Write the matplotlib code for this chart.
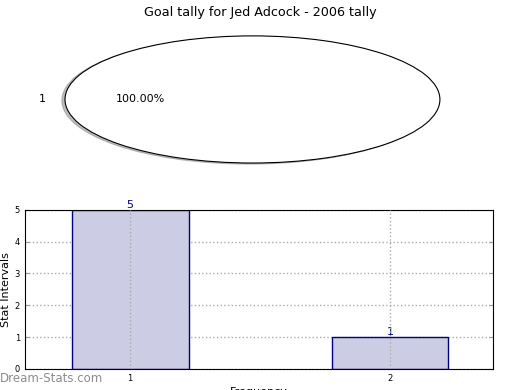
import numpy as np
import matplotlib
matplotlib.use('Agg')
import matplotlib.pyplot as plt

# pie data
pie_labels = ['1']
pie_values = [1]

# bar data
bar_cats = [1, 2]
bar_values = [5, 1]

fig = plt.figure(figsize=(5.2, 3.9), dpi=100)
fig.suptitle('Goal tally for Jed Adcock - 2006 tally', fontsize=9.2, y=0.985)

# top pie, squashed into an ellipse
ax1 = fig.add_axes([0.125, 0.582, 0.721, 0.326])
ax1.pie(pie_values, labels=pie_labels, autopct='%1.2f%%', startangle=0,
        shadow={'ox': -0.012, 'oy': -0.012, 'shade': 0.5},
        colors=['white'],
        wedgeprops={'edgecolor': 'black', 'linewidth': 0.8},
        textprops={'fontsize': 8})
ax1.set_aspect('auto')
ax1.set_xlim(-1, 1)
ax1.set_ylim(-1, 1)
ax1.axis('off')

# bottom bars
ax2 = fig.add_axes([0.048, 0.054, 0.9, 0.408])
bars = ax2.bar(bar_cats, bar_values, 0.45, color='#ccccE5', edgecolor='navy',
               linewidth=1, zorder=2)
for rect, v in zip(bars, bar_values):
    ax2.text(rect.get_x() + rect.get_width() / 2, v, str(v),
             ha='center', va='bottom', color='navy', fontsize=8)
ax2.set_xlim(0.596, 2.396)
ax2.set_ylim(0, 5)
ax2.set_xticks(bar_cats)
ax2.set_yticks(range(6))
ax2.tick_params(labelsize=6, direction='in', length=3, color='#999999',
                right=True, top=False)
ax2.grid(True, axis='y', linestyle=':', color='#aaaaaa', linewidth=1)
ax2.set_axisbelow(True)
# vertical grid drawn over the bars
for c in bar_cats:
    ax2.axvline(c, linestyle=':', color='#aaaaaa', linewidth=1, zorder=3)
ax2.set_ylabel('Stat Intervals', fontsize=8, labelpad=3)
ax2.set_xlabel('Frequency', fontsize=8, labelpad=3)

fig.text(0.0, 0.012, 'Dream-Stats.com', fontsize=8.5, color='#8c8c8c',
         ha='left', va='bottom')

fig.savefig('out.png', dpi=100)
